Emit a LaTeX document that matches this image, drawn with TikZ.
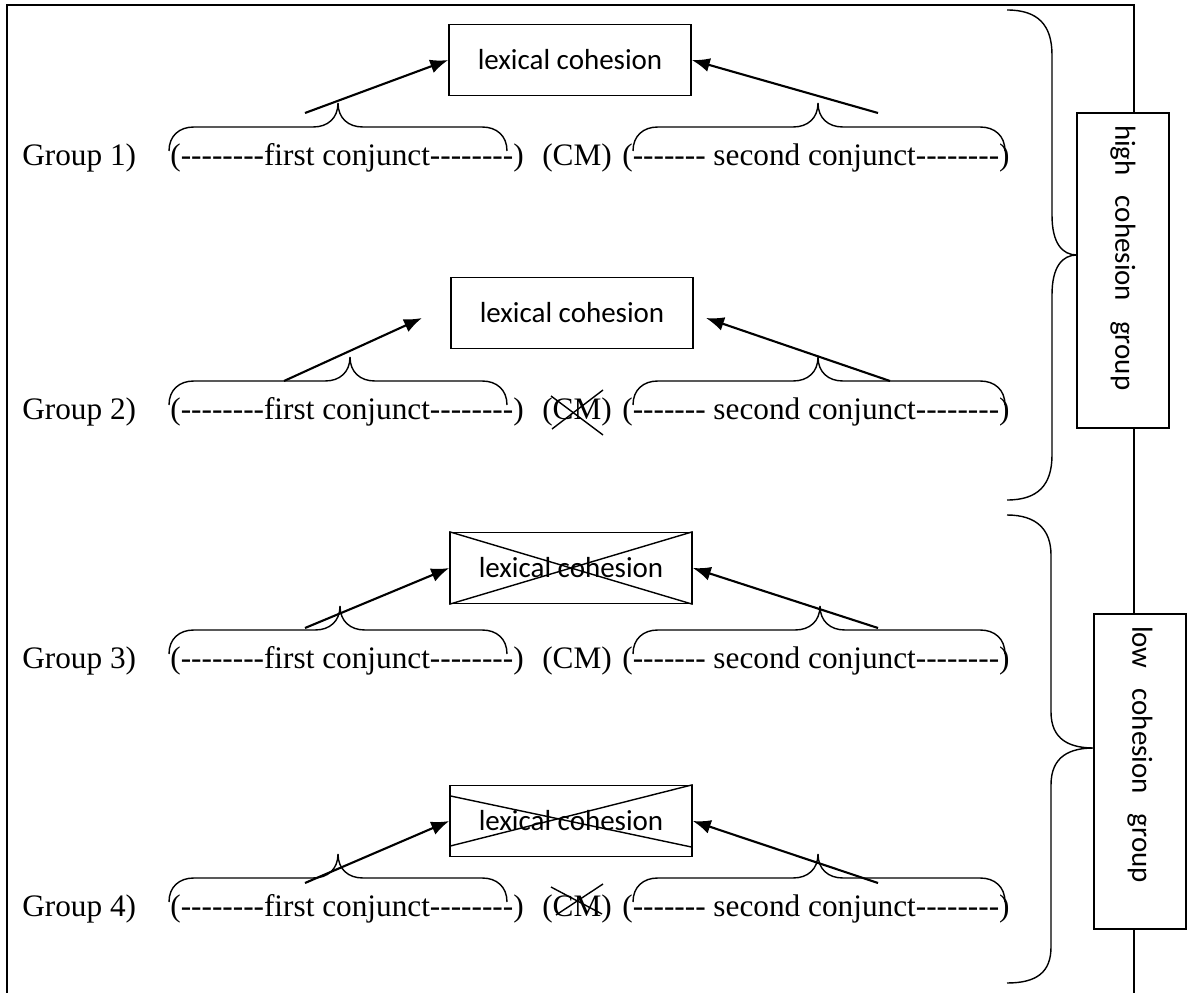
\documentclass[tikz,border=0pt]{standalone}
\usepackage{fontspec}
\setmainfont{Liberation Serif}
\newfontfamily\calibri{Carlito}
\usetikzlibrary{arrows.meta,calc}

%% hyphens one by one, so that no en dash is formed
\newcommand{\dashes}[1]{\foreach \k in {1,...,#1}{-\relax}}
%% over-brace: left x / tip x / right x / text y
\newcommand{\conjbrace}[4]{%
  \draw[bracestyle] (#1,#4-7) .. controls (#1,#4-22) and (#1+10,#4-31) .. (#1+25,#4-31)
    -- (#2-25,#4-31) .. controls (#2-10,#4-31) and (#2,#4-40) .. (#2,#4-55)
    .. controls (#2,#4-40) and (#2+10,#4-31) .. (#2+25,#4-31)
    -- (#3-25,#4-31) .. controls (#3-10,#4-31) and (#3,#4-22) .. (#3,#4-7);}

\tikzset{
  frameline/.style={line width=1.2pt},
  bracestyle/.style={line width=0.8pt},
  crossline/.style={line width=0.8pt},
  linkarrow/.style={line width=1.2pt, -{Latex[length=0.36cm, width=0.28cm]}},
  rowtext/.style={inner sep=0pt, font=\fontsize{17.8}{21}\selectfont},
  lexbox/.style={draw, line width=0.9pt, fill=white, inner sep=0pt,
    minimum width=4.84cm, minimum height=1.42cm,
    font=\calibri\fontsize{16.5}{19}\selectfont},
  groupbox/.style={draw, line width=0.9pt, fill=white, rotate=-90,
    minimum width=6.3cm, minimum height=1.84cm, inner xsep=0.24cm, inner ysep=0pt,
    text width=5.82cm, align=left, font=\calibri\fontsize{16.5}{19}\selectfont}
}

\begin{document}
\begin{tikzpicture}[x=0.02cm, y=-0.02cm]
  \useasboundingbox (0,0) rectangle (1194,993);
  %% ── Frame ─────────────────────────────────────────────
  \draw[frameline] (7,993) -- (7,5) -- (1134,5) -- (1134,993);

  %% ── Lexical cohesion boxes ────────────────────────────
  \node[lexbox] (lex1) at (570,60)  {lexical cohesion};
  \node[lexbox] (lex2) at (572,313) {lexical cohesion};
  \node[lexbox] (lex3) at (571,568) {lexical cohesion};
  \node[lexbox] (lex4) at (571,821) {lexical cohesion};
  \draw[crossline] (lex3.north west) -- (lex3.south east);
  \draw[crossline] (lex3.south west) -- (lex3.north east);
  \draw[crossline] ([yshift=-0.22cm]lex4.north west) -- ([yshift=0.2cm]lex4.south east);
  \draw[crossline] ([yshift=0.22cm]lex4.south west) -- (lex4.north east);

  %% ── Rows: group / text y / first tip / second tip ─────
  \foreach \i/\ty/\ta/\tb in {1/158/338/818, 2/412/350/818, 3/661/340/820, 4/909/338/818}{
    \node[rowtext, anchor=west] (grp\i)    at (22,\ty)  {Group \i)};
    \node[rowtext, anchor=west] (first\i)  at (170,\ty) {(\dashes{8}first conjunct\dashes{8})};
    \node[rowtext]              (cm\i)     at (577,\ty) {(CM)};
    \node[rowtext, anchor=west] (second\i) at (622,\ty) {(\dashes{7} second conjunct\dashes{8})};
    \conjbrace{169}{\ta}{507}{\ty}
    \conjbrace{633}{\tb}{1005}{\ty}
  }

  %% ── Arrows to the boxes ───────────────────────────────
  \coordinate (s1l) at (305,113);  \coordinate (s1r) at (878,113);
  \coordinate (s2l) at (284,381);  \coordinate (s2r) at (890,381);
  \coordinate (e2l) at (422,318);  \coordinate (e2r) at (706,318);
  \coordinate (s3l) at (305,628);  \coordinate (s3r) at (878,628);
  \coordinate (s4l) at (305,883);  \coordinate (s4r) at (878,883);
  \draw[linkarrow] (s1l) -- (lex1.west);
  \draw[linkarrow] (s1r) -- (lex1.east);
  \draw[linkarrow] (s2l) -- (e2l);
  \draw[linkarrow] (s2r) -- (e2r);
  \draw[linkarrow] (s3l) -- (lex3.west);
  \draw[linkarrow] (s3r) -- (lex3.east);
  \draw[linkarrow] (s4l) -- (lex4.west);
  \draw[linkarrow] (s4r) -- (lex4.east);

  %% ── Crossed-out CM ────────────────────────────────────
  \draw[crossline] ($(cm2)+(-26,-16)$) -- ($(cm2)+(26,23)$);
  \draw[crossline] ($(cm2)+(-25,17)$)  -- ($(cm2)+(26,-22)$);
  \draw[crossline] ($(cm4)+(-26,-22)$) -- ($(cm4)+(25,5)$);
  \draw[crossline] ($(cm4)+(-21,6)$)   -- ($(cm4)+(26,-25)$);

  %% ── Group braces and boxes ────────────────────────────
  \draw[bracestyle] (1007,10) .. controls (1038,10) and (1052,25) .. (1052,55) -- (1052,215)
    .. controls (1052,243) and (1062,255) .. (1077,255)
    .. controls (1062,255) and (1052,267) .. (1052,295) -- (1052,455)
    .. controls (1052,485) and (1038,500) .. (1007,500);
  \draw[bracestyle] (1007,515) .. controls (1037,515) and (1051,530) .. (1051,555) -- (1051,712)
    .. controls (1051,740) and (1070,748) .. (1094,748)
    .. controls (1070,748) and (1051,756) .. (1051,785) -- (1051,947)
    .. controls (1051,972) and (1037,983) .. (1007,983);
  \node[groupbox] (high) at (1123,270.5) {high\hspace{0.4cm}cohesion\hspace{0.4cm}group};
  \node[groupbox] (low)  at (1140,771.5) {low\hspace{0.4cm}cohesion\hspace{0.4cm}group};
\end{tikzpicture}
\end{document}
